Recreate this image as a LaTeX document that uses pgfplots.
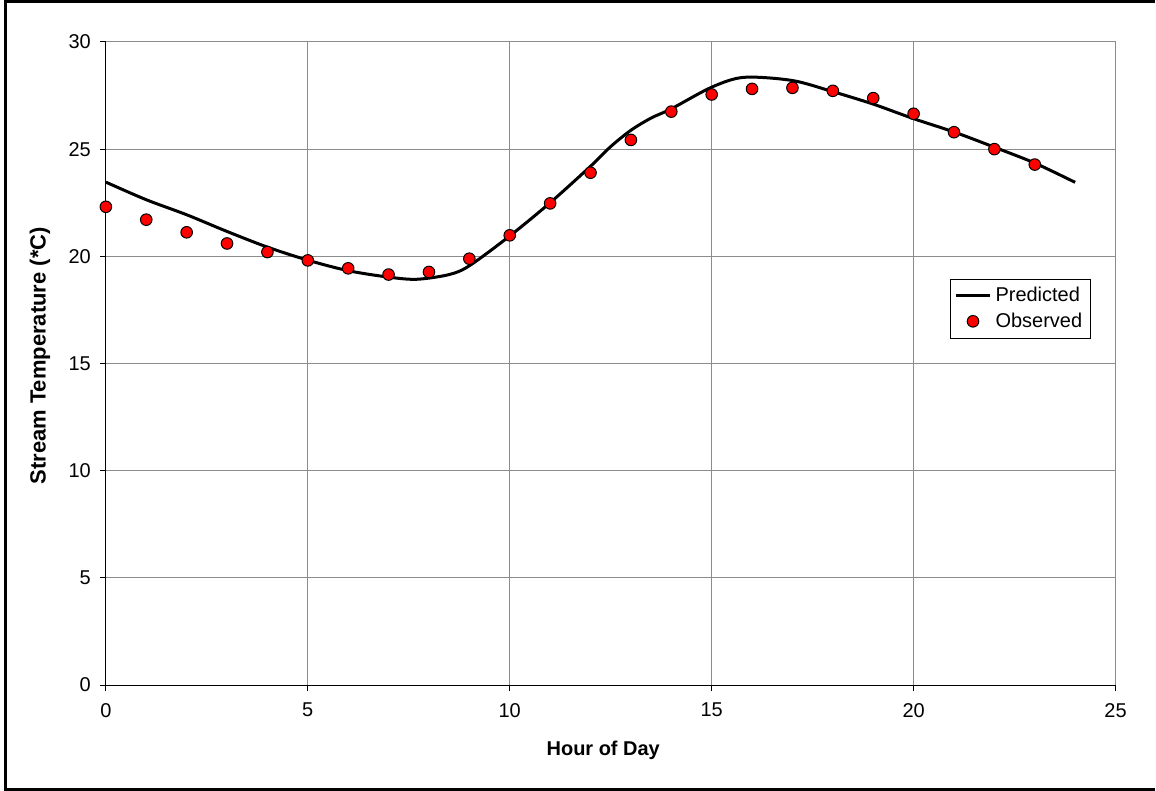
\documentclass[border=0pt]{standalone}
\usepackage{pgfplots}
\pgfplotsset{compat=1.18}
\usepackage{fontspec}
\setmainfont{Liberation Sans}
\begin{document}
\begin{tikzpicture}
\path (0pt,0pt) rectangle (578pt,396pt);
\draw[line width=1.5pt] (578pt,395.25pt) -- (2.75pt,395.25pt) -- (2.75pt,0.75pt) -- (578pt,0.75pt);
\begin{axis}[
  at={(53pt,53pt)}, anchor=south west,
  scale only axis, width=505.5pt, height=322pt,
  xmin=0, xmax=25, ymin=0, ymax=30,
  xtick={0,5,...,25}, ytick={0,5,...,30},
  axis x line*=bottom, axis y line*=left,
  axis line style={line width=0.6pt, -},
  tick align=outside, major tick length=3pt,
  tick style={black, line width=0.5pt},
  grid=major, major grid style={black!45, line width=0.5pt},
  ticklabel style={font=\fontsize{10}{12}\selectfont},
  xticklabel style={yshift=-2.5pt},
  yticklabel style={xshift=-1pt},
  /pgf/number format/assume math mode=true,
  xlabel={Hour of Day}, ylabel={Stream Temperature (*C)},
  xlabel style={font=\fontsize{10}{12}\selectfont\bfseries, at={(axis description cs:0.4926,-0.102)}, anchor=center},
  ylabel style={font=\fontsize{11}{12}\selectfont\bfseries, at={(axis description cs:-0.0653,0.512)}, anchor=center},
  legend style={at={(0.836,0.632)}, anchor=north west, draw=black, line width=0.5pt,
    font=\fontsize{10}{12}\selectfont, row sep=0pt, inner sep=2pt},
  legend cell align=left,
  clip=false,
]
\addplot[black, line width=1.5pt, smooth, tension=0.5] coordinates {
(0,23.46) (1,22.64) (2,21.94) (3,21.16) (4,20.43) (5,19.82) (6,19.33) (7,19.03)
(7.7,18.93) (8.5,19.15) (9,19.56) (10,20.95) (11,22.50) (12,24.20) (12.5,25.12) (13,25.88) (13.5,26.45) (14,26.88)
(15,27.89) (15.8,28.35) (17,28.20) (18,27.68) (19,27.10) (20,26.42) (21,25.80)
(22,25.09) (23,24.35) (24,23.45)
};
\addlegendentry{Predicted}
\addplot[only marks, mark=*, mark size=2.9pt, mark options={fill=red, draw=black, line width=0.5pt}] coordinates {
(0,22.31) (1,21.71) (2,21.12) (3,20.60) (4,20.20) (5,19.81) (6,19.44) (7,19.15)
(8,19.27) (9,19.89) (10,20.98) (11,22.47) (12,23.90) (13,25.43) (14,26.75) (15,27.55)
(16,27.81) (17,27.86) (18,27.72) (19,27.38) (20,26.65) (21,25.79) (22,25.00) (23,24.28)
};
\addlegendentry{Observed}
\end{axis}
\end{tikzpicture}
\end{document}
